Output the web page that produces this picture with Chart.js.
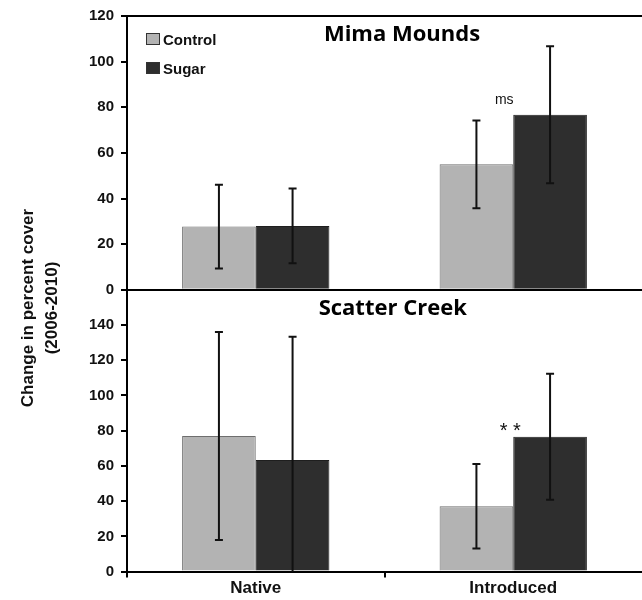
<!DOCTYPE html>
<html>
<head>
<meta charset="utf-8">
<script src="https://cdn.jsdelivr.net/npm/chart.js@4.4.1/dist/chart.umd.min.js"></script>
<style>
  html, body { margin: 0; padding: 0; background: #fff; }
  canvas { display: block; }
</style>
</head>
<body>
<canvas id="chart" width="642" height="600"></canvas>
<script>
const categories = ['Native', 'Introduced'];
const seriesNames = ['Control', 'Sugar'];

// Mima Mounds (top panel)
const mimaControl = [27.7, 55];
const mimaControlErr = [18.4, 19.2];
const mimaSugar = [28, 76.7];
const mimaSugarErr = [16.4, 30];

// Scatter Creek (bottom panel)
const scatterControl = [77, 37.1];
const scatterControlErr = [59, 24];
const scatterSugar = [63.4, 76.6];
const scatterSugarErr = [70, 35.8];

const mimaTicks = [0, 20, 40, 60, 80, 100, 120];
const scatterTicks = [0, 20, 40, 60, 80, 100, 120, 140];

const panelTitles = ['Mima Mounds', 'Scatter Creek'];
const yTitle = ['Change in percent cover', '(2006-2010)'];
const sigMarks = [
    { axis: 'yTop', category: 'Introduced', value: 81.5, text: 'ms' },
    { axis: 'yBottom', category: 'Introduced', value: 76.5, text: '* *' }
];

const CONTROL_FILL = '#b3b3b3';
const SUGAR_FILL = '#2e2e2e';
const ARIAL = 'Arial, "Liberation Sans", sans-serif';

Chart.defaults.font.family = ARIAL;
Chart.defaults.color = '#111';

function barSet(label, data, errors, axis, fill, border) {
    return {
        label: label,
        data: data,
        errors: errors,
        yAxisID: axis,
        stack: label,
        backgroundColor: fill,
        borderColor: border,
        borderWidth: 1,
        categoryPercentage: 0.572,
        barPercentage: 1
    };
}

const errorBars = {
    id: 'errorBars',
    afterDatasetsDraw(chart) {
        const ctx = chart.ctx;
        ctx.save();
        ctx.strokeStyle = '#111';
        ctx.lineWidth = 2;
        chart.data.datasets.forEach((ds, i) => {
            const y = chart.scales[ds.yAxisID];
            chart.getDatasetMeta(i).data.forEach((bar, j) => {
                const low = ds.data[j] - ds.errors[j];
                const top = y.getPixelForValue(ds.data[j] + ds.errors[j]);
                const bottom = y.getPixelForValue(Math.max(low, y.min));
                ctx.beginPath();
                ctx.moveTo(bar.x, top);
                ctx.lineTo(bar.x, bottom);
                ctx.moveTo(bar.x - 4, top);
                ctx.lineTo(bar.x + 4, top);
                if (low > y.min) {
                    ctx.moveTo(bar.x - 4, bottom);
                    ctx.lineTo(bar.x + 4, bottom);
                }
                ctx.stroke();
            });
        });
        ctx.restore();
    }
};

const decorations = {
    id: 'decorations',
    afterDraw(chart) {
        const ctx = chart.ctx;
        const area = chart.chartArea;
        const x = chart.scales.x;
        const yTop = chart.scales.yTop;
        const yBottom = chart.scales.yBottom;
        ctx.save();

        // panel titles
        ctx.fillStyle = '#000';
        ctx.textAlign = 'center';
        ctx.textBaseline = 'alphabetic';
        ctx.font = 'bold 22px "Open Sans", sans-serif';
        ctx.fillText(panelTitles[0], area.left + area.width * 0.534, yTop.getPixelForValue(109));
        ctx.fillText(panelTitles[1], area.left + area.width * 0.516, yBottom.getPixelForValue(145.5));

        // legend
        const fills = [CONTROL_FILL, SUGAR_FILL];
        ctx.font = 'bold 15px ' + ARIAL;
        ctx.textAlign = 'left';
        seriesNames.forEach((name, i) => {
            const top = area.top + 17 + i * 29;
            ctx.fillStyle = fills[i];
            ctx.fillRect(area.left + 19, top, 14, 12);
            ctx.strokeStyle = '#333';
            ctx.lineWidth = 1;
            ctx.strokeRect(area.left + 19.5, top + 0.5, 13, 11);
            ctx.fillStyle = '#111';
            ctx.fillText(name, area.left + 36, top + 12);
        });

        // significance marks
        sigMarks.forEach(m => {
            const px = x.getPixelForValue(categories.indexOf(m.category));
            const py = chart.scales[m.axis].getPixelForValue(m.value);
            ctx.textAlign = 'center';
            ctx.fillStyle = '#111';
            if (m.text === 'ms') {
                ctx.font = '14px ' + ARIAL;
                ctx.fillText(m.text, px - 9, py);
            } else {
                ctx.font = '20px ' + ARIAL;
                ctx.fillText(m.text, px - 3, py);
            }
        });

        // shared y axis title
        ctx.translate(0, 308);
        ctx.rotate(-Math.PI / 2);
        ctx.font = 'bold 17px ' + ARIAL;
        ctx.textAlign = 'center';
        ctx.textBaseline = 'middle';
        ctx.fillStyle = '#111';
        ctx.fillText(yTitle[0], 0, 28);
        ctx.fillText(yTitle[1], 0, 52);
        ctx.restore();
    }
};

const tickFont = { family: ARIAL, size: 15, weight: 'bold' };

new Chart(document.getElementById('chart').getContext('2d'), {
    type: 'bar',
    data: {
        labels: categories,
        datasets: [
            barSet(seriesNames[0], mimaControl, mimaControlErr, 'yTop', CONTROL_FILL, '#6e6e6e'),
            barSet(seriesNames[1], mimaSugar, mimaSugarErr, 'yTop', SUGAR_FILL, '#1e1e1e'),
            barSet(seriesNames[0], scatterControl, scatterControlErr, 'yBottom', CONTROL_FILL, '#6e6e6e'),
            barSet(seriesNames[1], scatterSugar, scatterSugarErr, 'yBottom', SUGAR_FILL, '#1e1e1e')
        ]
    },
    options: {
        responsive: false,
        animation: false,
        devicePixelRatio: 1,
        layout: { padding: { left: 67, right: 0, top: 13, bottom: 0 } },
        plugins: {
            legend: { display: false },
            tooltip: { enabled: false }
        },
        scales: {
            x: {
                stacked: true,
                offset: true,
                grid: {
                    offset: true,
                    drawOnChartArea: false,
                    tickLength: 6,
                    lineWidth: 2,
                    // the closing boundary tick at the right edge is not shown in the original
                    tickColor: c => c.tick ? '#000' : 'rgba(0,0,0,0)'
                },
                border: { color: '#000', width: 2 },
                ticks: { padding: 1, color: '#111', font: { family: ARIAL, size: 17, weight: 'bold' } }
            },
            yBottom: {
                type: 'linear',
                position: 'left',
                stack: 'panels',
                stackWeight: 284,
                stacked: false,
                min: 0,
                max: 160,
                afterBuildTicks: s => { s.ticks = scatterTicks.map(v => ({ value: v })); },
                afterFit: s => { s.width = 60; },
                grid: { drawOnChartArea: false, tickLength: 6, tickColor: '#000', lineWidth: 2 },
                border: { color: '#000', width: 2 },
                ticks: { padding: 7, color: '#111', font: tickFont }
            },
            yTop: {
                type: 'linear',
                position: 'left',
                stack: 'panels',
                stackWeight: 276,
                stacked: false,
                min: 0,
                max: 120,
                afterBuildTicks: s => { s.ticks = mimaTicks.map(v => ({ value: v })); },
                afterFit: s => { s.width = 60; },
                grid: {
                    tickLength: 6,
                    tickColor: '#000',
                    lineWidth: 2,
                    color: c => (c.tick && (c.tick.value === 0 || c.tick.value === 120)) ? '#000' : 'rgba(0,0,0,0)'
                },
                border: { color: '#000', width: 2 },
                ticks: { padding: 7, color: '#111', font: tickFont }
            }
        }
    },
    plugins: [errorBars, decorations]
});
</script>
</body>
</html>
